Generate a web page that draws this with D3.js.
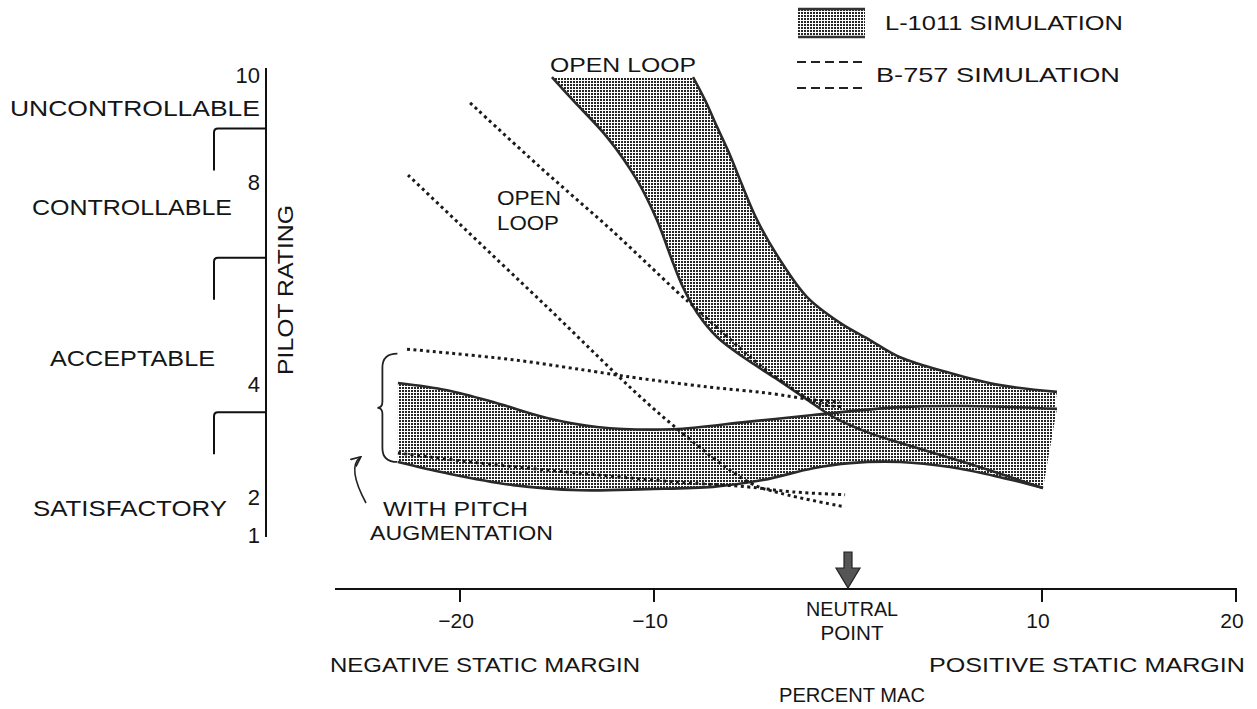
<!DOCTYPE html>
<html><head><meta charset="utf-8">
<script src="https://cdn.jsdelivr.net/npm/d3@7"></script>
<style>
body{margin:0;background:#fff}
svg{display:block}
text{font-family:"Liberation Sans",Arial,Helvetica,sans-serif;fill:#151515}
</style>
</head><body>
<svg id="c" width="1257" height="709"></svg>
<script>
// ---------- data ----------
const xTicks = [-20, -10, 10, 20];
const xTickLabels = ["\u221220", "\u221210", "10", "20"];
const yTicks = [1, 2, 4, 8, 10];
const yTickLabels = ["1", "2", "4", "8", "10"];
const ratingBounds = [3.5, 6.5, 9];
const ratingClasses = ["SATISFACTORY", "ACCEPTABLE", "CONTROLLABLE", "UNCONTROLLABLE"];
const ratingClassAt = [1.71, 4.51, 7.5, 9.38];
const seriesNames = ["L-1011 SIMULATION", "B-757 SIMULATION"];

// L-1011 open-loop band: [percent MAC, pilot rating]
const l1011OpenLeft = [[-15.26,9.96],[-14.18,9.53],[-12.42,8.84],[-10.88,8.04],[-9.85,7.25],[-9.02,6.40],[-8.51,5.92],[-7.78,5.41],[-6.75,4.93],[-5.31,4.51],[-3.76,4.12],[-2.22,3.75],[-0.77,3.42],[1.13,3.13],[2.68,2.96],[6.13,2.60],[10.05,2.16]];
const l1011OpenRight = [[-7.99,9.96],[-7.37,9.53],[-6.75,9.03],[-6.08,8.50],[-5.57,8.04],[-4.69,7.25],[-3.51,6.46],[-2.11,5.72],[-0.41,5.21],[1.13,4.87],[2.68,4.53],[5.26,4.22],[7.84,3.98],[10.77,3.86]];
// L-1011 with pitch augmentation band
const l1011AugTop = [[-23.20,4.02],[-20.67,3.89],[-18.09,3.66],[-15.52,3.40],[-12.94,3.24],[-9.02,3.20],[-5.21,3.33],[-1.80,3.45],[2.68,3.59],[6.13,3.61],[10.77,3.56]];
const l1011AugBottom = [[-23.20,2.62],[-20.67,2.42],[-17.27,2.21],[-13.81,2.12],[-10.36,2.14],[-6.96,2.18],[-4.38,2.30],[-1.80,2.51],[0.10,2.60],[2.68,2.62],[5.26,2.53],[7.84,2.35],[10.05,2.16]];
// B-757 simulation (dotted)
const b757OpenUpper = [[-19.48,9.48],[-15.88,8.28],[-12.2,7.05],[-8.51,5.72],[-8.14,5.60],[-6.44,5.01],[-4.69,4.42],[-2.99,3.95],[-1.60,3.66],[-0.26,3.60]];
const b757OpenLower = [[-22.68,8.13],[-15.88,5.66],[-9.54,3.42],[-5.05,2.25],[-3.51,2.07],[-0.15,1.74]];
const b757AugUpper = [[-22.73,4.69],[-17.27,4.48],[-12.63,4.22],[-10.88,4.12],[-7.27,3.95],[-4.18,3.84],[-1.80,3.72],[-0.41,3.68]];
const b757AugLower = [[-23.20,2.78],[-18.97,2.60],[-13.81,2.42],[-8.66,2.26],[-5.21,2.18],[-2.84,2.09],[-0.15,2.04]];

// ---------- scales ----------
const x = d3.scaleLinear().domain([-20, 20]).range([460, 1236]);
const y = d3.scaleLinear().domain(yTicks).range([535, 497, 384, 182, 75]);

const svg = d3.select("#c");
const defs = svg.append("defs");
const pat = defs.append("pattern").attr("id", "dots")
  .attr("patternUnits", "userSpaceOnUse").attr("width", 3).attr("height", 3);
pat.append("rect").attr("width", 3).attr("height", 3).attr("fill", "#fff");
pat.append("rect").attr("width", 2).attr("height", 2).attr("fill", "#262626");

defs.append("marker").attr("id", "ah").attr("viewBox", "0 0 10 10")
  .attr("refX", 8).attr("refY", 5).attr("markerWidth", 7).attr("markerHeight", 7)
  .attr("orient", "auto")
  .append("path").attr("d", "M0,1 L9,5 L0,9").attr("fill", "none").attr("stroke", "#222").attr("stroke-width", 1.5);

const line = d3.line().x(d => x(d[0])).y(d => y(d[1])).curve(d3.curveCatmullRom.alpha(0.5));
const closed = (a, b) => line(a) + "L" + line(b.slice().reverse()).slice(1) + "Z";

// ---------- bands ----------
svg.append("path").attr("d", closed(l1011AugTop, l1011AugBottom)).attr("fill", "url(#dots)");
svg.append("path").attr("d", closed(l1011OpenLeft, l1011OpenRight)).attr("fill", "url(#dots)");
[l1011OpenLeft, l1011OpenRight, l1011AugTop, l1011AugBottom].forEach(s =>
  svg.append("path").attr("d", line(s)).attr("fill", "none")
    .attr("stroke", "#2a2a2a").attr("stroke-width", 2.6));

// ---------- B-757 dotted lines ----------
[b757OpenUpper, b757OpenLower, b757AugUpper, b757AugLower].forEach(s =>
  svg.append("path").attr("d", line(s)).attr("fill", "none")
    .attr("stroke", "#1a1a1a").attr("stroke-width", 3).attr("stroke-dasharray", "3,3.5"));

// ---------- y axis ----------
const ax = 266;
svg.append("line").attr("x1", ax).attr("x2", ax).attr("y1", y(10) - 7).attr("y2", y(1) + 2)
  .attr("stroke", "#111").attr("stroke-width", 2);
svg.selectAll(".yl").data(yTicks).enter().append("text")
  .attr("x", ax - 6).attr("y", d => y(d) + 8).attr("text-anchor", "end")
  .attr("font-size", 22).text((d, i) => yTickLabels[i]);
svg.selectAll(".br").data(ratingBounds).enter().append("path")
  .attr("d", d => `M${ax},${y(d)} H218 Q214,${y(d)} 214,${y(d) + 4} V${y(d) + 42}`)
  .attr("fill", "none").attr("stroke", "#111").attr("stroke-width", 2);
const classRight = [227, 215, 232, 260];
const classLen = [194, 165, 200, 250];
svg.selectAll(".cl").data(ratingClasses).enter().append("text")
  .attr("x", (d, i) => classRight[i] - classLen[i]).attr("y", (d, i) => y(ratingClassAt[i]) + 8)
  .attr("font-size", 22).attr("textLength", (d, i) => classLen[i]).attr("lengthAdjust", "spacingAndGlyphs")
  .text(d => d);
svg.append("text").attr("transform", `translate(293,290) rotate(-90)`)
  .attr("text-anchor", "middle").attr("font-size", 22).attr("textLength", 170)
  .attr("lengthAdjust", "spacingAndGlyphs").text("PILOT RATING");

// ---------- x axis ----------
const ay = 589;
svg.append("line").attr("x1", 335).attr("x2", x(20) + 1).attr("y1", ay).attr("y2", ay)
  .attr("stroke", "#111").attr("stroke-width", 2);
svg.selectAll(".xt").data(xTicks).enter().append("line")
  .attr("x1", d => x(d)).attr("x2", d => x(d)).attr("y1", ay).attr("y2", ay + 13)
  .attr("stroke", "#111").attr("stroke-width", 2);
svg.selectAll(".xl").data(xTicks).enter().append("text")
  .attr("x", d => x(d) - 4).attr("y", ay + 39).attr("text-anchor", "middle")
  .attr("font-size", 21).text((d, i) => xTickLabels[i]);
// neutral point arrow
const nx = x(0);
svg.append("path")
  .attr("d", `M${nx - 4},552 H${nx + 4} V568 H${nx + 12} L${nx},588 L${nx - 12},568 H${nx - 4} Z`)
  .attr("fill", "#555").attr("stroke", "#222").attr("stroke-width", 1.2);
svg.append("text").attr("x", nx + 4).attr("y", 616).attr("text-anchor", "middle")
  .attr("font-size", 21).attr("textLength", 92).attr("lengthAdjust", "spacingAndGlyphs").text("NEUTRAL");
svg.append("text").attr("x", nx + 4).attr("y", 640).attr("text-anchor", "middle")
  .attr("font-size", 21).attr("textLength", 63).attr("lengthAdjust", "spacingAndGlyphs").text("POINT");
svg.append("text").attr("x", 485).attr("y", 672).attr("text-anchor", "middle")
  .attr("font-size", 21).attr("textLength", 310).attr("lengthAdjust", "spacingAndGlyphs").text("NEGATIVE STATIC MARGIN");
svg.append("text").attr("x", 1087).attr("y", 672).attr("text-anchor", "middle")
  .attr("font-size", 21).attr("textLength", 316).attr("lengthAdjust", "spacingAndGlyphs").text("POSITIVE STATIC MARGIN");
svg.append("text").attr("x", nx + 4).attr("y", 702).attr("text-anchor", "middle")
  .attr("font-size", 21).attr("textLength", 146).attr("lengthAdjust", "spacingAndGlyphs").text("PERCENT MAC");

// ---------- annotations ----------
svg.append("text").attr("x", 550).attr("y", 72).attr("font-size", 20)
  .attr("textLength", 146).attr("lengthAdjust", "spacingAndGlyphs").text("OPEN LOOP");
svg.append("text").attr("x", 497).attr("y", 205).attr("font-size", 20)
  .attr("textLength", 64).attr("lengthAdjust", "spacingAndGlyphs").text("OPEN");
svg.append("text").attr("x", 497).attr("y", 230).attr("font-size", 20)
  .attr("textLength", 62).attr("lengthAdjust", "spacingAndGlyphs").text("LOOP");
svg.append("text").attr("x", 383).attr("y", 516).attr("font-size", 21)
  .attr("textLength", 145).attr("lengthAdjust", "spacingAndGlyphs").text("WITH PITCH");
svg.append("text").attr("x", 370).attr("y", 540).attr("font-size", 21)
  .attr("textLength", 183).attr("lengthAdjust", "spacingAndGlyphs").text("AUGMENTATION");

// brace
const bt = y(4.6), bb = y(2.62), bm = (bt + bb) / 2, bxl = x(-24.0);
svg.append("path")
  .attr("d", `M${bxl + 15},${bt} Q${bxl},${bt} ${bxl},${bt + 14} V${bm - 6} Q${bxl},${bm} ${bxl - 5},${bm} Q${bxl},${bm} ${bxl},${bm + 6} V${bb - 14} Q${bxl},${bb} ${bxl + 15},${bb}`)
  .attr("fill", "none").attr("stroke", "#222").attr("stroke-width", 1.8);
// curved arrow from label to brace
svg.append("path").attr("d", `M366,503 Q347,468 360,${y(2.7)}`)
  .attr("fill", "none").attr("stroke", "#222").attr("stroke-width", 1.6).attr("marker-end", "url(#ah)");

// ---------- legend ----------
svg.append("rect").attr("x", 798).attr("y", 9).attr("width", 67).attr("height", 28).attr("fill", "url(#dots)");
svg.append("line").attr("x1", 798).attr("x2", 865).attr("y1", 9).attr("y2", 9).attr("stroke", "#333").attr("stroke-width", 2.5);
svg.append("line").attr("x1", 798).attr("x2", 865).attr("y1", 37).attr("y2", 37).attr("stroke", "#333").attr("stroke-width", 2.5);
svg.append("text").attr("x", 885).attr("y", 30).attr("font-size", 21)
  .attr("textLength", 238).attr("lengthAdjust", "spacingAndGlyphs").text(seriesNames[0]);
[62, 88].forEach(yy => svg.append("line").attr("x1", 797).attr("x2", 867).attr("y1", yy).attr("y2", yy)
  .attr("stroke", "#222").attr("stroke-width", 2).attr("stroke-dasharray", "9,5"));
svg.append("text").attr("x", 876).attr("y", 82).attr("font-size", 21)
  .attr("textLength", 244).attr("lengthAdjust", "spacingAndGlyphs").text(seriesNames[1]);
</script>
</body></html>
